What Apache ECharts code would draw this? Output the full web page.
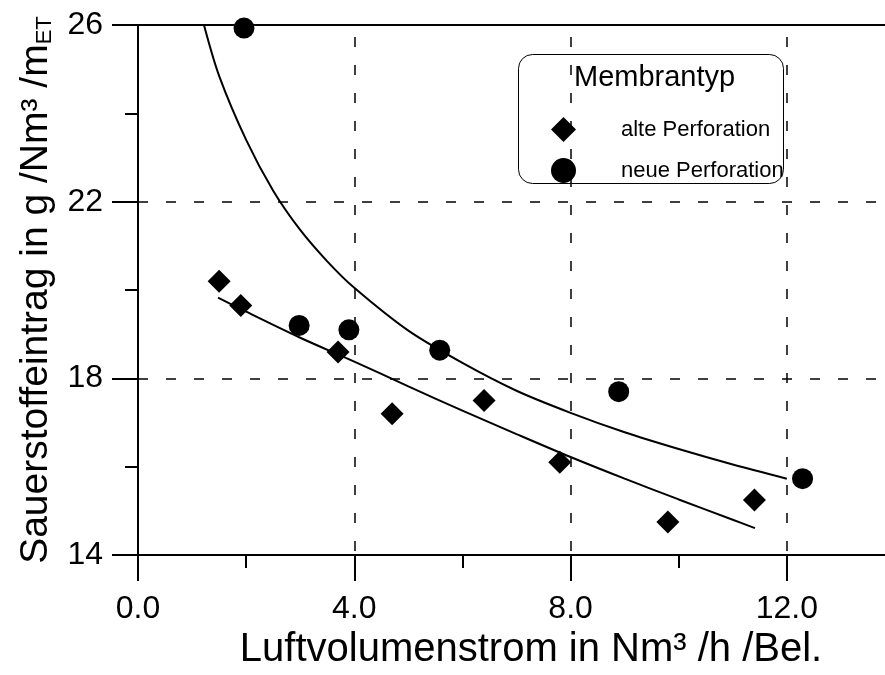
<!DOCTYPE html>
<html>
<head>
<meta charset="utf-8">
<script src="https://cdn.jsdelivr.net/npm/echarts@6/dist/echarts.min.js"></script>
<style>html,body{margin:0;padding:0;background:#fff;overflow:hidden}#c{width:895px;height:675px}</style>
</head>
<body>
<div id="c"></div>
<script>
// Data
const xTicks = [0, 4, 8, 12];
const yTicks = [14, 18, 22, 26];
const alteX = [1.5, 1.9, 3.7, 4.7, 6.4, 7.8, 9.8, 11.4];
const alteY = [20.2, 19.65, 18.6, 17.2, 17.5, 16.1, 14.75, 15.25];
const neueX = [1.96, 2.98, 3.9, 5.58, 8.89, 12.29];
const neueY = [25.93, 19.2, 19.1, 18.64, 17.7, 15.73];
// Fitted curves
const alteFitX = [1.48, 2, 3, 4, 5, 6, 7, 8, 9, 10, 11, 11.41];
const alteFitY = [19.83, 19.51, 18.92, 18.38, 17.82, 17.27, 16.74, 16.22, 15.73, 15.26, 14.8, 14.61];
const neueFitX = [1.22, 1.5, 2, 2.5, 3, 3.5, 4, 5, 6, 7, 8, 9, 10, 11, 12];
const neueFitY = [26.0, 24.85, 23.4, 22.25, 21.36, 20.65, 20.05, 19.08, 18.35, 17.72, 17.22, 16.78, 16.4, 16.05, 15.73];

const zip = (a, b) => a.map((v, i) => [v, b[i]]);
const FONT = '"Liberation Sans", Arial, Helvetica, sans-serif';
const chart = echarts.init(document.getElementById('c'), null, {renderer: 'canvas'});
const dash = {color: '#000', width: 1.5, type: [10, 18]};

chart.setOption({
  animation: false,
  backgroundColor: '#fff',
  textStyle: {fontFamily: FONT, color: '#000'},
  grid: {left: 138, right: 0, top: 25, bottom: 117, containLabel: false},
  title: {
    text: 'Membrantyp', left: 569, top: 58,
    textStyle: {fontFamily: FONT, fontSize: 29, fontWeight: 'normal', color: '#000'}
  },
  legend: {
    orient: 'vertical', left: 546, top: 112, itemWidth: 25, itemHeight: 25, itemGap: 16,
    data: [{name: 'alte Perforation', icon: 'diamond'}, {name: 'neue Perforation', icon: 'circle'}],
    itemStyle: {opacity: 1},
    textStyle: {fontFamily: FONT, fontSize: 22, color: '#000', padding: [0, 0, 0, 40]},
    selectedMode: false
  },
  graphic: [{
    type: 'rect', left: 516, top: 52, z: 0,
    shape: {width: 265, height: 129, r: 14},
    style: {fill: 'none', stroke: '#000', lineWidth: 1}
  }],
  xAxis: [{
    type: 'value', min: 0, max: 14, interval: 4,
    name: 'Luftvolumenstrom in Nm³ /h /Bel.', nameLocation: 'middle', nameGap: 64,
    nameTextStyle: {fontFamily: FONT, fontSize: 40, color: '#000', padding: [0, 0, 0, 29]},
    axisLine: {show: true, onZero: false, lineStyle: {color: '#000', width: 2}},
    axisTick: {show: true, length: 26, lineStyle: {color: '#000', width: 2}},
    minorTick: {show: true, splitNumber: 2, length: 13, lineStyle: {color: '#000', width: 2}},
    axisLabel: {fontFamily: FONT, fontSize: 32, color: '#000', margin: 38, showMaxLabel: false,
      formatter: v => (xTicks.indexOf(v) >= 0 ? v.toFixed(1) : '')},
    splitLine: {show: true, lineStyle: Object.assign({}, dash, {dashOffset: 16})}
  }, {
    type: 'value', position: 'top', min: 0, max: 14, interval: 4,
    axisLine: {show: true, lineStyle: {color: '#000', width: 2}},
    axisTick: {show: false}, axisLabel: {show: false}, splitLine: {show: false}
  }],
  yAxis: {
    type: 'value', min: 14, max: 26, interval: 4,
    name: '{a|Sauerstoffeintrag in g /Nm³ /m}{b|ET}', nameLocation: 'middle', nameGap: 82, nameRotate: 90,
    nameTextStyle: {
      fontFamily: FONT, color: '#000',
      rich: {
        a: {fontFamily: FONT, fontSize: 39, color: '#000'},
        b: {fontFamily: FONT, fontSize: 22, color: '#000', verticalAlign: 'bottom'}
      }
    },
    axisLine: {show: true, onZero: false, lineStyle: {color: '#000', width: 2}},
    axisTick: {show: true, length: 26, lineStyle: {color: '#000', width: 2}},
    minorTick: {show: true, splitNumber: 2, length: 13, lineStyle: {color: '#000', width: 2}},
    axisLabel: {fontFamily: FONT, fontSize: 32, color: '#000', margin: 35,
      formatter: v => (yTicks.indexOf(v) >= 0 ? String(v) : '')},
    splitLine: {show: true, lineStyle: dash}
  },
  series: [
    {type: 'line', name: 'fit alte', data: zip(alteFitX, alteFitY), smooth: 0.3, showSymbol: false,
      lineStyle: {color: '#000', width: 2}, z: 2, silent: true},
    {type: 'line', name: 'fit neue', data: zip(neueFitX, neueFitY), smooth: 0.3, showSymbol: false,
      lineStyle: {color: '#000', width: 2}, z: 2, silent: true},
    {type: 'scatter', name: 'alte Perforation', symbol: 'diamond', symbolSize: 23,
      itemStyle: {color: '#000', opacity: 1}, data: zip(alteX, alteY), z: 3},
    {type: 'scatter', name: 'neue Perforation', symbol: 'circle', symbolSize: 21,
      itemStyle: {color: '#000', opacity: 1}, data: zip(neueX, neueY), z: 3}
  ]
});
</script>
</body>
</html>
